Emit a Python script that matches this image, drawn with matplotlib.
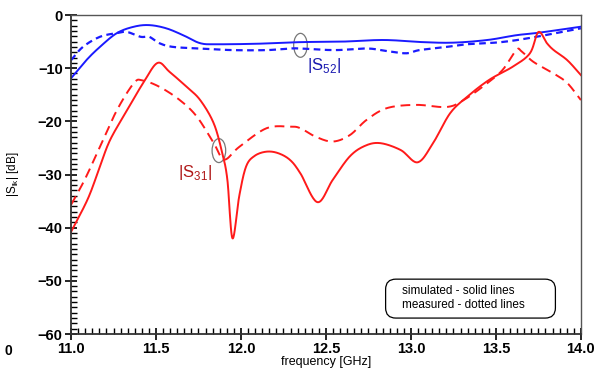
import numpy as np
import matplotlib.pyplot as plt
from matplotlib.patches import Ellipse, FancyBboxPatch
from matplotlib.ticker import MultipleLocator

plt.rcParams['font.family'] = ['Liberation Sans', 'DejaVu Sans']

# |S52| simulato (linea continua)
f_s52_sim = [11.0, 11.09, 11.17, 11.27, 11.37, 11.46, 11.56, 11.66, 11.76, 11.86,
             12.1, 12.35, 12.6, 12.84, 13.07, 13.25, 13.45, 13.62, 13.76, 14.0]
s52_sim = [-11.9, -8.5, -6.0, -3.4, -2.2, -1.9, -2.5, -3.8, -5.3, -5.5,
           -5.4, -5.1, -5.0, -4.7, -5.1, -5.2, -4.7, -3.8, -3.3, -2.2]

# |S52| misurato (linea tratteggiata)
f_s52_meas = [11.0, 11.07, 11.17, 11.27, 11.33, 11.41, 11.46, 11.52, 11.6, 11.76,
              11.95, 12.15, 12.29, 12.35, 12.55, 12.74, 12.84, 12.97, 13.05, 13.21,
              13.33, 13.53, 13.72, 14.0]
s52_meas = [-8.5, -6.0, -4.1, -3.4, -3.2, -4.1, -4.1, -5.3, -6.0, -6.3,
            -6.6, -6.6, -6.3, -6.3, -6.6, -6.3, -6.7, -7.2, -6.6, -6.0,
            -5.5, -5.1, -4.2, -2.5]

# |S31| simulato
f_s31_sim = [11.0, 11.1, 11.17, 11.23, 11.33, 11.43, 11.51, 11.58, 11.68, 11.76,
             11.84, 11.89, 11.92, 11.95, 11.99, 12.03, 12.08, 12.15, 12.22, 12.29,
             12.35, 12.45, 12.54, 12.64, 12.73, 12.82, 12.94, 13.04, 13.13, 13.23,
             13.33, 13.46, 13.6, 13.7, 13.75, 13.8, 13.84, 13.92, 14.0]
s31_sim = [-40.8, -34.5, -28.5, -23.5, -17.9, -12.5, -9.0, -10.7, -13.5, -16.0,
           -20.4, -26.0, -31.0, -42.0, -34.0, -28.5, -26.5, -25.7, -26.0, -27.3,
           -29.8, -35.2, -31.0, -26.6, -24.6, -24.1, -25.4, -27.7, -24.1, -18.5,
           -15.4, -12.2, -9.7, -7.2, -3.2, -5.3, -6.6, -8.5, -11.3]

# |S31| misurato
f_s31_meas = [11.0, 11.08, 11.17, 11.27, 11.37, 11.42, 11.52, 11.64, 11.74, 11.84,
              11.9, 11.99, 12.15, 12.29, 12.35, 12.44, 12.54, 12.64, 12.74, 12.86,
              13.03, 13.21, 13.31, 13.45, 13.54, 13.62, 13.65, 13.72, 13.84, 13.92, 14.0]
s31_meas = [-35.7, -31.0, -24.8, -17.9, -12.8, -12.3, -13.5, -16.0, -19.1, -24.1,
            -27.2, -24.8, -21.3, -21.0, -21.3, -22.9, -23.8, -22.6, -19.7, -17.5,
            -16.9, -17.3, -16.0, -12.8, -10.3, -6.6, -6.8, -8.8, -11.0, -12.8, -16.0]


def smooth(x, y):
    # interpolazione morbida solo per il disegno (Catmull-Rom)
    x = np.asarray(x, float)
    y = np.asarray(y, float)
    px = np.concatenate([[2 * x[0] - x[1]], x, [2 * x[-1] - x[-2]]])
    py = np.concatenate([[2 * y[0] - y[1]], y, [2 * y[-1] - y[-2]]])
    xs, ys = [], []
    for i in range(1, len(px) - 2):
        t = np.linspace(0, 1, 20, endpoint=False)
        for arr, out in ((px, xs), (py, ys)):
            p0, p1, p2, p3 = arr[i - 1], arr[i], arr[i + 1], arr[i + 2]
            out.extend(0.5 * ((2 * p1) + (-p0 + p2) * t
                              + (2 * p0 - 5 * p1 + 4 * p2 - p3) * t ** 2
                              + (-p0 + 3 * p1 - 3 * p2 + p3) * t ** 3))
    xs.append(x[-1])
    ys.append(y[-1])
    return np.array(xs), np.array(ys)


fig = plt.figure(figsize=(6.07, 3.8), dpi=100)
ax = fig.add_axes([0.117, 0.121, 0.840, 0.8395])

blue = '#1a1aff'
red = '#ff1a1a'
ax.plot(*smooth(f_s52_sim, s52_sim), color=blue, lw=1.4)
ax.plot(*smooth(f_s52_meas, s52_meas), color=blue, lw=1.6, dashes=(3, 2))
ax.plot(*smooth(f_s31_sim, s31_sim), color=red, lw=1.4)
ax.plot(*smooth(f_s31_meas, s31_meas), color=red, lw=1.4, dashes=(5, 3))

ax.set_xlim(11.0, 14.0)
ax.set_ylim(-60, 0)
ax.xaxis.set_major_locator(MultipleLocator(0.5))
ax.xaxis.set_minor_locator(MultipleLocator(0.5 / 12))
ax.yaxis.set_major_locator(MultipleLocator(10))
ax.yaxis.set_minor_locator(MultipleLocator(1))
ax.xaxis.set_major_formatter(plt.FormatStrFormatter('%.1f'))
ax.tick_params(which='major', direction='inout', length=8, width=1.2,
               labelsize=10.5, colors='black', pad=2)
ax.tick_params(which='minor', direction='in', length=4, width=1)
for lab in ax.get_xticklabels() + ax.get_yticklabels():
    lab.set_fontweight('bold')
for s in ['left', 'bottom']:
    ax.spines[s].set_color('#333333')
    ax.spines[s].set_linewidth(1.3)
for s in ['top', 'right']:
    ax.spines[s].set_color('#555555')
    ax.spines[s].set_linewidth(1.0)

ax.set_xlabel('frequency [GHz]', fontsize=9, labelpad=0)
ax.set_ylabel('|S$_{\\mathregular{lk}}$| [dB]', fontsize=8.5, labelpad=12)

# ellissi e etichette delle curve
ax.add_patch(Ellipse((11.87, -25.5), 0.08, 4.5, fill=False, ec='#777777', lw=0.9))
ax.add_patch(Ellipse((12.35, -5.7), 0.08, 4.5, fill=False, ec='#777777', lw=0.9))
ax.text(11.63, -30.5, '|S$_{\\mathregular{31}}$|', color='#b01818', fontsize=12)
ax.text(12.39, -10.3, '|S$_{\\mathregular{52}}$|', color='#1a1ab0', fontsize=12)

# riquadro note (coordinate degli assi)
box = FancyBboxPatch((0.617, 0.05), 0.333, 0.122, transform=ax.transAxes,
                     boxstyle='round,pad=0,rounding_size=0.02',
                     mutation_aspect=510 / 319, fill=False, ec='black', lw=0.9)
ax.add_patch(box)
ax.text(12.95, -51.9, 'simulated - solid lines', fontsize=8.5, va='center')
ax.text(12.95, -54.6, 'measured - dotted lines', fontsize=8.5, va='center')

fig.text(0.008, 0.065, '0', fontsize=10, fontweight='bold')

fig.savefig('out.png', dpi=100)
